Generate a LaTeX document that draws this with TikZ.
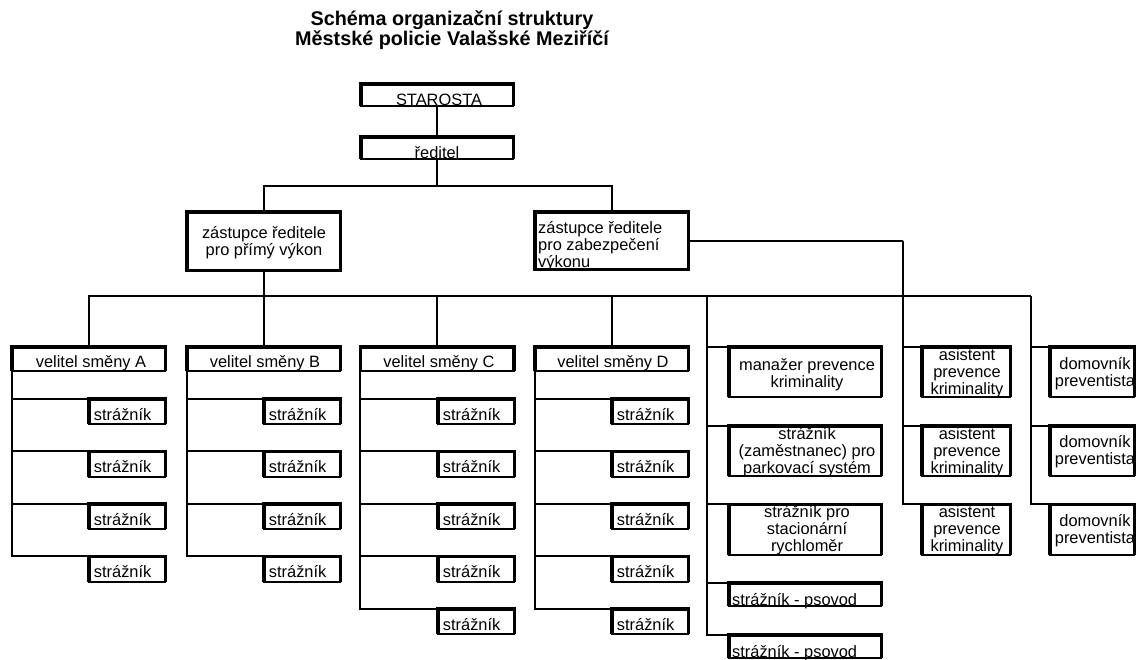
\documentclass[tikz,border=0pt]{standalone}
\usepackage{fontspec}
\setmainfont{Liberation Sans}

\tikzset{
  box/.style = {draw, line width=2pt, inner sep=0pt, outer sep=0pt,
    append after command={\pgfextra{\draw[line width=3.5pt]
      (\tikzlastnode.south west) -- (\tikzlastnode.north west)
      -- (\tikzlastnode.north east) -- (\tikzlastnode.south east);}}},
  fullbox/.style = {draw, line width=3.5pt, inner sep=0pt, outer sep=0pt},
  lbl/.style = {inner sep=0pt, font=\fontsize{16.4}{17}\selectfont, align=center},
  conn/.style = {line width=2pt},
}

\begin{document}
\begin{tikzpicture}[x=1pt, y=-1pt]
    \useasboundingbox (0,0) rectangle (1137,659);

    % Title (base = last line)
    \node[inner sep=0pt, align=center, anchor=base,
          font=\bfseries\fontsize{19.8}{18.5}\selectfont] (title) at (452,45)
        {Schéma organizační struktury\\Městské policie Valašské Meziříčí};

    % Top
    \node[box, minimum width=152.5, minimum height=22.5] (star) at (437,95) {};
    \node[box, minimum width=152.5, minimum height=22.5] (red) at (437,148) {};
    \node[lbl, anchor=base] (start) at (439,105) {STAROSTA};
    \node[lbl, anchor=base] (redt) at (437,158) {ředitel};

    % Deputies
    \node[fullbox, minimum width=153.5, minimum height=58.5] (dep1) at (263.5,241) {};
    \node[fullbox, minimum width=153.5, minimum height=57.5] (dep2) at (611.5,240.5) {};
    \node[lbl, anchor=base] (dep1t) at (264,255) {zástupce ředitele\\pro přímý výkon};
    \node[lbl, anchor=base west, align=left] (dep2t) at (538,267)
        {zástupce ředitele\\pro zabezpečení\\výkonu};

    % Shift commanders
    \node[box, minimum width=153.5, minimum height=24.5] (velA) at (88.5,359) {};
    \node[box, minimum width=153.5, minimum height=24.5] (velB) at (263.5,359) {};
    \node[box, minimum width=153.5, minimum height=24.5] (velC) at (437,359) {};
    \node[box, minimum width=153.5, minimum height=24.5] (velD) at (611.5,359) {};
    \node[lbl, anchor=base] (velAt) at (91,367) {velitel směny A};
    \node[lbl, anchor=base] (velBt) at (265,367) {velitel směny B};
    \node[lbl, anchor=base] (velCt) at (439,367) {velitel směny C};
    \node[lbl, anchor=base] (velDt) at (613,367) {velitel směny D};

    % Guards
    \foreach \col/\cx/\n in {A/127/4, B/302/4, C/476/5, D/650/5}{
      \foreach \i in {1,...,\n}{
        \node[box, minimum width=76.5, minimum height=25.5] (s\col\i) at (\cx,{359+52.5*\i}) {};
        \node[lbl, anchor=base west] (s\col\i t) at ([xshift=5pt,yshift=4pt]s\col\i.south west) {strážník};
        \draw[conn] (vel\col.south west) |- (s\col\i.north west);
      }
    }

    % Prevention column
    \node[box, minimum width=152.5, minimum height=50.5] (man1) at (805,372) {};
    \node[box, minimum width=152.5, minimum height=50.5] (man2) at (805,451) {};
    \node[box, minimum width=152.5, minimum height=50.5] (man3) at (805,529.5) {};
    \node[box, minimum width=152.5, minimum height=23.5] (man4) at (805,594.5) {};
    \node[box, minimum width=152.5, minimum height=23.5] (man5) at (805,646.5) {};
    \node[lbl, anchor=base] (man1t) at (807,387) {manažer prevence\\kriminality};
    \node[lbl, anchor=base] (man2t) at (807,473) {strážník\\(zaměstnanec) pro\\parkovací systém};
    \node[lbl, anchor=base] (man3t) at (807,551) {strážník pro\\stacionární\\rychloměr};
    \node[lbl, anchor=base west] (man4t) at (732,605) {strážník - psovod};
    \node[lbl, anchor=base west] (man5t) at (732,657) {strážník - psovod};

    % Assistants and wardens
    \node[box, minimum width=88.5, minimum height=50.5] (asi1) at (966,372) {};
    \node[box, minimum width=88.5, minimum height=50.5] (asi2) at (966,451) {};
    \node[box, minimum width=88.5, minimum height=50.5] (asi3) at (966,529.5) {};
    \node[lbl, anchor=base] (asi1t) at (967,394) {asistent\\prevence\\kriminality};
    \node[lbl, anchor=base] (asi2t) at (967,473) {asistent\\prevence\\kriminality};
    \node[lbl, anchor=base] (asi3t) at (967,551) {asistent\\prevence\\kriminality};
    \node[box, minimum width=84.5, minimum height=50.5] (dom1) at (1092,372) {};
    \node[box, minimum width=84.5, minimum height=50.5] (dom2) at (1092,451) {};
    \node[box, minimum width=84.5, minimum height=50.5] (dom3) at (1092,529.5) {};
    \node[lbl, anchor=base] (dom1t) at (1095,386) {domovník\\preventista};
    \node[lbl, anchor=base] (dom2t) at (1095,464) {domovník\\preventista};
    \node[lbl, anchor=base] (dom3t) at (1095,543) {domovník\\preventista};

    % Edges
    \coordinate (split) at (437,186);
    \coordinate (busM) at (707,296);
    \coordinate (busR) at (1031,296);
    \coordinate (asiV) at (903,240.5);

    \draw[conn] (star) -- (red);
    \draw[conn] (red.south) -- (split);
    \draw[conn] (dep1.north) |- (split) -| (dep2.north);
    \draw[conn] (dep1.south) -- (velB.north);
    \draw[conn] (velA.north) |- (busR);
    \draw[conn] (velC.north) -- (velC.north |- busR);
    \draw[conn] (velD.north) -- (velD.north |- busR);
    \draw[conn] (dep2.east) -- (asiV);

    \foreach \i in {1,...,5}
      \draw[conn] (busM) |- (man\i.north west);
    \foreach \i in {1,...,3}{
      \draw[conn] (asiV) |- (asi\i.north west);
      \draw[conn] (busR) |- (dom\i.north west);
    }

\end{tikzpicture}
\end{document}
